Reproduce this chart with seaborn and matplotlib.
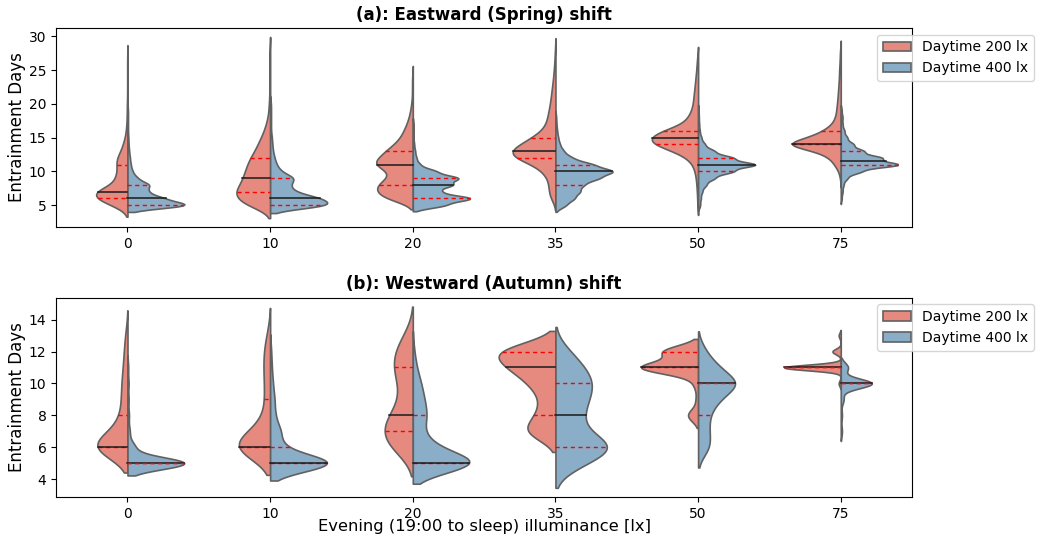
import matplotlib.pyplot as plt
import numpy as np
import pandas as pd
import seaborn as sns

# evening illuminance levels (x categories) and daytime groups (hue)
lux = ["0", "10", "20", "35", "50", "75"]
daytime = ["Daytime 200 lx", "Daytime 400 lx"]
colors = ["#E68A80", "#8AADC8"]
east_yticks = [5, 10, 15, 20, 25, 30]
west_yticks = [4, 6, 8, 10, 12, 14]

# (a) eastward shift: first entrainment day and share of subjects per day after it
east_200_first = [5, 5, 6, 6, 5, 9]
east_200_share = [
    [10, 21, 23, 8, 8, 6, 7, 7, 4, 3, 1.5, 1, 0.6, 0.5, 0.4, 0.4, 0.2, 0.2, 0.2, 0.2, 0.2, 0.2, 0.2],
    [9, 11, 12, 9.5, 9, 8, 7.5, 6.5, 5, 4, 3, 2, 1.3, 0.8, 0.5, 0.5,
     0.2, 0.2, 0.2, 0.2, 0.2, 0.2, 0.2, 0.2],
    [10, 12, 12, 8, 7, 14, 11, 9, 6, 4, 3, 2, 1.3, 0.8, 0.5, 0.25, 0.25, 0.25, 0.25],
    [2, 2.5, 2.5, 3, 5, 8, 16, 18, 13, 9, 5, 3.5, 3, 2.5, 2, 1.7, 1.4, 1.1, 0.8, 0.6,
     0.4, 0.3, 0.2],
    [0.3, 0.4, 0.5, 0.7, 1, 1.5, 2.5, 5, 11, 20, 22, 16, 7, 4.5, 3, 2.3, 2, 1.7, 1.4,
     1.1, 0.8, 0.6, 0.4],
    [0.3, 1, 3, 5, 11, 28, 15, 8, 4, 2.5, 2, 1.7, 1.4, 1.2, 1, 0.8, 0.7, 0.5, 0.4, 0.3],
]
east_200_n = [1100, 1180, 1280, 1500, 1620, 1700]

east_400_first = [5, 5, 5, 5, 5, 6]
east_400_share = [
    [40, 22, 12, 14, 6, 3, 2, 1.5, 1, 0.7, 0.5, 0.3, 0.3, 0.3, 0.3],
    [30, 24, 11, 9, 12, 5, 3, 2, 1.3, 1, 0.8, 0.4, 0.4, 0.4, 0.4, 0.4],
    [14, 26, 11, 17, 20, 10, 3, 1.5, 1, 0.6, 0.3, 0.3, 0.3],
    [4, 7, 9, 10, 16, 22, 14, 6, 3, 1.6, 1, 0.6, 0.4, 0.3],
    [0.8, 1, 1.5, 3, 6, 13, 22, 13, 6, 2.5, 1.2, 0.6, 0.4, 0.3, 0.2],
    [1, 2, 3, 7, 22, 65, 45, 25, 14, 7, 4, 2, 2, 1],
]
east_400_n = [2000, 2000, 2000, 2000, 2000, 2000]

# (b) westward shift
west_200_first = [6, 6, 6, 7, 8, 10]
west_200_share = [
    [50, 14, 7, 6, 6, 4, 3.5, 2.5],
    [47, 14, 5, 5, 5, 6, 5.5, 3],
    [13, 17, 12, 5.5, 7.5, 10.5, 9.5, 5],
    [15, 8, 6, 11, 20, 28],
    [5, 1, 2, 28, 17],
    [3, 80, 12, 3],
]
west_200_n = [105, 110, 100, 200, 200, 200]

west_400_first = [5, 5, 5, 5, 6, 7]
west_400_share = [
    [80, 10, 3, 2, 1.5, 1.5, 1],
    [60, 10, 9, 4, 3.5, 2.5, 1.5, 1],
    [48, 14, 6, 9, 7, 5, 2.5, 1],
    [10, 24, 9, 9, 11, 13, 10, 5],
    [5, 4, 4, 8, 17, 8, 3],
    [2, 2, 5, 60, 14],
]
west_400_n = [200, 200, 200, 180, 130, 108]


def build(groups):
    rows = []
    for label, first, share, sizes in groups:
        for lx, d0, w, n in zip(lux, first, share, sizes):
            w = np.asarray(w, dtype=float)
            counts = np.round(w / w.sum() * n).astype(int)
            days = np.repeat(np.arange(d0, d0 + len(w)), counts)
            rows.append(pd.DataFrame({"lux": lx, "daytime": label, "days": days}))
    return pd.concat(rows, ignore_index=True)


east = build([(daytime[0], east_200_first, east_200_share, east_200_n),
              (daytime[1], east_400_first, east_400_share, east_400_n)])
west = build([(daytime[0], west_200_first, west_200_share, west_200_n),
              (daytime[1], west_400_first, west_400_share, west_400_n)])

fig, axes = plt.subplots(2, 1, figsize=(10.4, 5.36), dpi=100)
fig.subplots_adjust(left=0.054, right=0.877, top=0.948, bottom=0.073, hspace=0.353)

titles = ["(a): Eastward (Spring) shift", "(b): Westward (Autumn) shift"]
for ax, df, title, yt in zip(axes, [east, west], titles, [east_yticks, west_yticks]):
    sns.violinplot(data=df, x="lux", y="days", hue="daytime", order=lux, hue_order=daytime,
                   split=True, inner="quart", density_norm="count", common_norm=True,
                   palette=colors, saturation=1, linecolor="0.38", linewidth=1.2, ax=ax)
    # median solid black, quartiles red dashed
    for i, line in enumerate(ax.lines):
        if i % 3 == 1:
            line.set_color("#1a1a1a")
            line.set_linestyle("-")
            line.set_linewidth(1.1)
        else:
            line.set_color("red")
            line.set_linestyle((0, (3, 2.5)))
            line.set_linewidth(1.0)
    ax.set_yticks(yt)
    ax.set_title(title, fontweight="bold", fontsize=12)
    ax.set_ylabel("Entrainment Days", fontsize=12, labelpad=2)
    ax.tick_params(labelsize=10)
    sns.move_legend(ax, "upper right", bbox_to_anchor=(1.15, 1.0), title=None, fontsize=10)

axes[0].set_xlabel("")
axes[1].set_xlabel("Evening (19:00 to sleep) illuminance [lx]", fontsize=11.8, labelpad=-1)

fig.savefig("out.png", dpi=100)
